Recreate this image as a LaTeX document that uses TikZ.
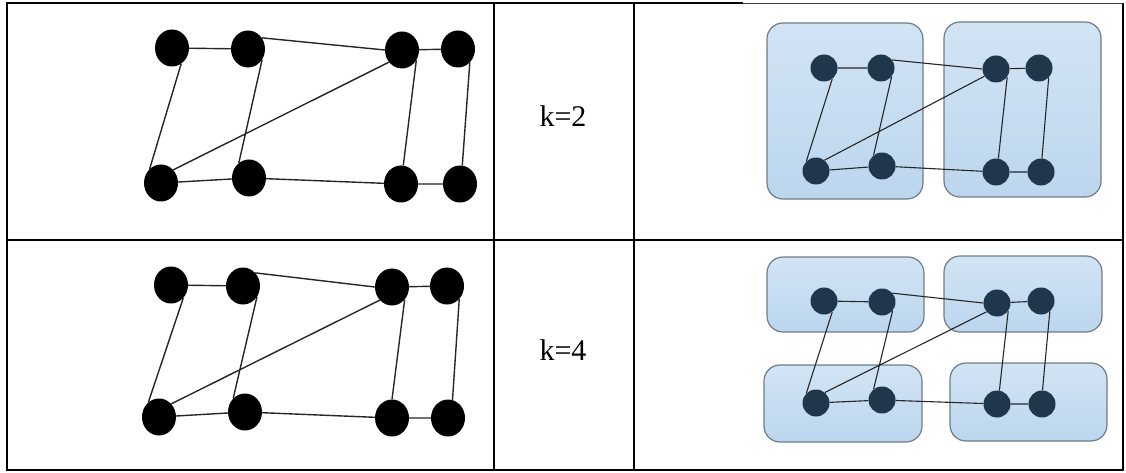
\documentclass[tikz,border=0pt]{standalone}
\usepackage{fontspec}
\setmainfont{Liberation Serif}
\usetikzlibrary{shapes.geometric}
\definecolor{navy}{HTML}{1F364B}
\definecolor{boxtop}{HTML}{D2E4F4}
\definecolor{boxbot}{HTML}{BCD6EE}
\definecolor{boxline}{HTML}{707C88}
\pgfdeclarelayer{boxes}
\pgfdeclarelayer{edges}
\pgfsetlayers{boxes,edges,main}
\begin{document}
\begin{tikzpicture}[x=1pt,y=-1pt,
  bignode/.style={ellipse,fill=black,inner sep=0pt,minimum width=34pt,minimum height=37pt},
  smallnode/.style={circle,fill=navy,inner sep=0pt,minimum size=27pt},
  edge/.style={line width=1.4pt,black!85},
  sedge/.style={line width=1.1pt,black!85},
  grp/.style={draw=boxline,line width=1.2pt,rounded corners=16pt,top color=boxtop,bottom color=boxbot},
  rule/.style={line width=2pt,black},
  thinrule/.style={line width=1.6pt,black!75},
  lab/.style={font=\fontsize{30}{36}\selectfont}]
\useasboundingbox (0,0) rectangle (1126,473);
% table
\draw[rule] (743,3) -- (7,3) -- (7,470) -- (1123,470) -- (1123,3);
\draw[thinrule] (743,3.5) -- (1123,3.5);
\draw[rule] (7,240) -- (743,240);
\draw[line width=1.2pt] (743,240) -- (1123,240);
\draw[rule] (494,3) -- (494,470);
\draw[rule] (634,3) -- (634,470);
% labels
\node[lab] (k2) at (563,116) {k=2};
\node[lab] (k4) at (563,350) {k=4};
% top-left graph
\node[bignode] (a1) at (172,48) {};
\node[bignode] (a2) at (248,49) {};
\node[bignode] (a3) at (402,50) {};
\node[bignode] (a4) at (458,49) {};
\node[bignode] (b1) at (161,183) {};
\node[bignode] (b2) at (249,178) {};
\node[bignode] (b3) at (401,184) {};
\node[bignode] (b4) at (460,184) {};
\begin{pgfonlayer}{edges}
\draw[edge] (a1)--(a2) (a2.39)--(a3.180) (a3)--(a4)
  (a1.-60)--(b1.129) (a2.-37)--(b2.124) (a3.-36)--(b3.83) (a4.-49)--(b4.83)
  (b1)--(b2) (b2)--(b3) (b3)--(b4) (b1.47)--(a3.-137);
\end{pgfonlayer}
% bottom-left graph
\node[bignode] (c1) at (171,285) {};
\node[bignode] (c2) at (243,286) {};
\node[bignode] (c3) at (392,287) {};
\node[bignode] (c4) at (447,286) {};
\node[bignode] (d1) at (159,417) {};
\node[bignode] (d2) at (245,412) {};
\node[bignode] (d3) at (392,418) {};
\node[bignode] (d4) at (448,418) {};
\begin{pgfonlayer}{edges}
\draw[edge] (c1)--(c2) (c2.47)--(c3.180) (c3)--(c4)
  (c1.-47)--(d1.126) (c2.-38)--(d2.131) (c3.-45)--(d3.90) (c4.-47)--(d4.76)
  (d1)--(d2) (d2)--(d3) (d3)--(d4) (d1.47)--(c3.-133);
\end{pgfonlayer}
% top-right: k=2
\begin{pgfonlayer}{boxes}
\draw[grp] (767,23) rectangle (923,199);
\draw[grp] (944,22) rectangle (1101,197);
\end{pgfonlayer}
\node[smallnode] (e1) at (824,68) {};
\node[smallnode] (e2) at (881,68) {};
\node[smallnode] (e3) at (996,69) {};
\node[smallnode] (e4) at (1039,68) {};
\node[smallnode] (f1) at (816,171) {};
\node[smallnode] (f2) at (882,166) {};
\node[smallnode] (f3) at (996,172) {};
\node[smallnode] (f4) at (1041,172) {};
\begin{pgfonlayer}{edges}
\draw[sedge] (e1)--(e2) (e2.36)--(e3.180) (e3)--(e4)
  (e1.-53)--(f1.135) (e2.-39)--(f2.128) (e3.-35)--(f3.80) (e4.-45)--(f4.86)
  (f1)--(f2) (f2)--(f3) (f3)--(f4) (f1.52)--(e3.-148);
\end{pgfonlayer}
% bottom-right: k=4
\begin{pgfonlayer}{boxes}
\draw[grp] (767,257) rectangle (924,332);
\draw[grp] (944,256) rectangle (1102,332);
\draw[grp] (764,365) rectangle (922,442);
\draw[grp] (950,363) rectangle (1107,441);
\end{pgfonlayer}
\node[smallnode] (g1) at (824,301) {};
\node[smallnode] (g2) at (882,302) {};
\node[smallnode] (g3) at (997,303) {};
\node[smallnode] (g4) at (1041,301) {};
\node[smallnode] (h1) at (816,403) {};
\node[smallnode] (h2) at (882,400) {};
\node[smallnode] (h3) at (997,404) {};
\node[smallnode] (h4) at (1042,404) {};
\begin{pgfonlayer}{edges}
\draw[sedge] (g1)--(g2) (g2.40)--(g3.180) (g3)--(g4)
  (g1.-53)--(h1.135) (g2.-39)--(h2.128) (g3.-35)--(h3.80) (g4.-50)--(h4.88)
  (h1)--(h2) (h2)--(h3) (h3)--(h4) (h1.50)--(g3.-140);
\end{pgfonlayer}
\end{tikzpicture}
\end{document}
